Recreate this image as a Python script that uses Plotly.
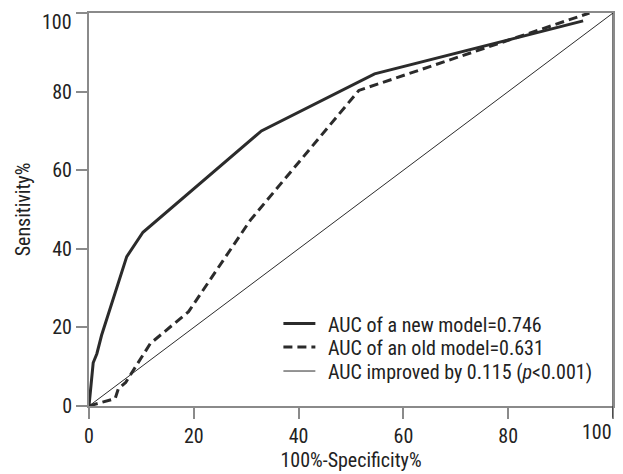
import plotly.graph_objects as go

# New model ROC (solid)
new_x = [0, 0.2, 0.8, 1.5, 2.4, 7.2, 10.3, 32.9, 54.5, 94.3]
new_y = [0, 2.9, 11, 13.3, 18, 38, 44.2, 70, 84.5, 98]
# Old model ROC (dashed)
old_x = [0, 5, 5.6, 7, 11.7, 19, 30.8, 51.5, 95.5]
old_y = [0, 1.9, 4.4, 6, 15.9, 24, 47.3, 80.3, 100]
# Reference diagonal
diag_x = [0, 100]
diag_y = [0, 100]

names = ["AUC of a new model=0.746",
         "AUC of an old model=0.631",
         "AUC improved by 0.115 (<i>p</i><0.001)"]
x_ticks = [0, 20, 40, 60, 80, 100]
x_ticklabels = ["0", "20", "40", "60", "80", "100"]
y_ticks = [0, 20, 40, 60, 80, 100]
y_ticklabels = ["0", "20", "40", "60", "80", "100"]

FONT = "Roboto Condensed, Liberation Sans Narrow, sans-serif"
FS = 20
LINE = "#2b2b2b"
AX = "#8a8a8a"
TXT = "#222"

styles = [dict(color=LINE, width=3),
          dict(color=LINE, width=3, dash="9px,5px"),
          dict(color=LINE, width=1)]

fig = go.Figure()
for xs, ys, nm, st in zip([new_x, old_x, diag_x], [new_y, old_y, diag_y], names, styles):
    fig.add_trace(go.Scatter(x=xs, y=ys, mode="lines", name=nm, line=st, showlegend=False))

# the last tick label of each axis sits at the page edge: drawn as annotations nudged inward
x_shown = x_ticklabels[:-1] + [""]
y_shown = y_ticklabels[:-1] + [""]

# the page body has an 8px margin, so the figure is 8px smaller than the window
fig.update_layout(
    width=615, height=466,
    margin=dict(l=81, r=10, t=5, b=68),
    plot_bgcolor="white", paper_bgcolor="white",
    font=dict(family=FONT, size=FS, color=TXT),
    showlegend=False,
    xaxis=dict(range=[0, 100], tickvals=x_ticks, ticktext=x_shown, showgrid=False, zeroline=False,
               showline=True, linecolor=AX, linewidth=2, mirror=True, automargin=False,
               ticks="outside", ticklen=11, tickwidth=2, tickcolor=AX,
               title=dict(text="100%-Specificity%", standoff=6, font=dict(size=FS))),
    yaxis=dict(range=[0, 100], tickvals=y_ticks, ticktext=y_shown, showgrid=False, zeroline=False,
               showline=True, linecolor=AX, linewidth=2, mirror=True, automargin=False,
               ticks="outside", ticklen=11, tickwidth=2, tickcolor=AX,
               title=dict(text="Sensitivity%", standoff=16, font=dict(size=FS))),
)
fig.add_annotation(x=x_ticks[-1], y=0, xref="x", yref="paper", yshift=-12,
                   text=x_ticklabels[-1], showarrow=False, xanchor="right", yanchor="top",
                   xshift=1, font=dict(family=FONT, size=FS, color=TXT))
fig.add_annotation(x=0, y=y_ticks[-1], xref="paper", yref="y", xshift=-15, yshift=5,
                   text=y_ticklabels[-1], showarrow=False, xanchor="right", yanchor="top",
                   font=dict(family=FONT, size=FS, color=TXT))
fig.add_shape(type="line", xref="x", yref="paper", x0=100, x1=100, y0=-0.03, y1=1,
              line=dict(color="#222", width=1.2))

# manual legend (lower right)
row_y = [0.210, 0.150, 0.089]
for nm, st, yy in zip(names, styles, row_y):
    fig.add_shape(type="line", xref="paper", yref="paper", x0=0.371, x1=0.432, y0=yy, y1=yy,
                  line=st)
    fig.add_annotation(x=0.452, y=yy - 0.003, xref="paper", yref="paper", text=nm,
                       showarrow=False, xanchor="left", yanchor="middle",
                       font=dict(family=FONT, size=FS, color=TXT))

fig.write_html("out.html")
